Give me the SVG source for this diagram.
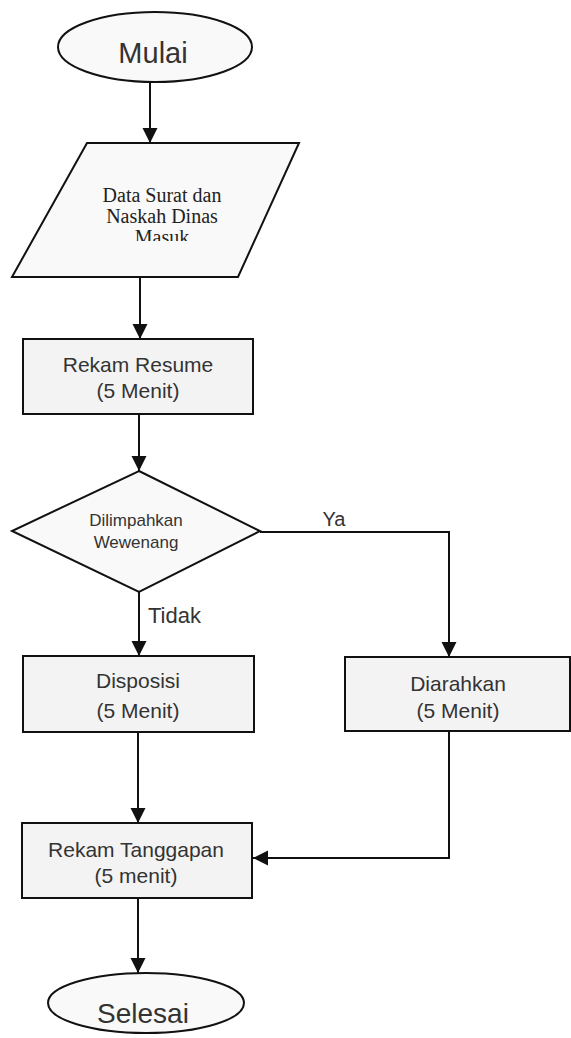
<svg xmlns="http://www.w3.org/2000/svg" width="571" height="1038" viewBox="0 0 571 1038">
  <style>
    .shape { stroke: #111; stroke-width: 2; }
    .box { fill: #f3f3f3; }
    .light { fill: #f9f9f9; }
    .lbl { font-family: "Liberation Sans", Arial, sans-serif; text-anchor: middle; fill: #333; }
    .serif { font-family: "Liberation Serif", "Times New Roman", serif; text-anchor: middle; fill: #222; font-size: 20px; }
    .conn { fill: none; stroke: #111; stroke-width: 2; }
  </style>
  <defs>
    <marker id="arr" markerUnits="userSpaceOnUse" markerWidth="16" markerHeight="16" refX="15" refY="7.5" orient="auto">
      <path d="M0,0 L15,7.5 L0,15 z" fill="#111"/>
    </marker>
    <clipPath id="clipData">
      <rect x="0" y="150" width="320" height="91"/>
    </clipPath>
  </defs>
  <rect x="0" y="0" width="571" height="1038" fill="#ffffff"/>

  <g id="connectors">
    <path class="conn" d="M150,82 V143" marker-end="url(#arr)"/>
    <path class="conn" d="M140,277 V339" marker-end="url(#arr)"/>
    <path class="conn" d="M139,414 V471" marker-end="url(#arr)"/>
    <path class="conn" d="M139,592 V656" marker-end="url(#arr)"/>
    <path class="conn" d="M260,532 H449 V657" marker-end="url(#arr)"/>
    <path class="conn" d="M449,731 V858 H253" marker-end="url(#arr)"/>
    <path class="conn" d="M138,732 V823" marker-end="url(#arr)"/>
    <path class="conn" d="M138,898 V973" marker-end="url(#arr)"/>
    <text class="lbl" x="334" y="526" font-size="20" fill="#111">Ya</text>
    <text class="lbl" x="148" y="623" font-size="22" style="text-anchor:start" fill="#111">Tidak</text>
  </g>

  <g id="mulai">
    <ellipse class="shape light" cx="155" cy="47" rx="97" ry="35"/>
    <text class="lbl" x="153" y="63" font-size="29" fill="#111">Mulai</text>
  </g>

  <g id="data-masuk">
    <polygon class="shape light" points="87,143 299,143 238,277 12,277"/>
    <g clip-path="url(#clipData)">
      <text class="serif" x="162" y="202">Data Surat dan</text>
      <text class="serif" x="162" y="223">Naskah Dinas</text>
      <text class="serif" x="162" y="244">Masuk</text>
    </g>
  </g>

  <g id="rekam-resume">
    <rect class="shape box" x="23" y="339" width="230" height="75"/>
    <text class="lbl" x="138" y="372" font-size="21">Rekam Resume</text>
    <text class="lbl" x="138" y="398" font-size="21">(5 Menit)</text>
  </g>

  <g id="dilimpahkan">
    <polygon class="shape light" points="139,471 260,531 139,592 12,531"/>
    <text class="lbl" x="136" y="526" font-size="17" fill="#444">Dilimpahkan</text>
    <text class="lbl" x="136" y="548" font-size="17" fill="#444">Wewenang</text>
  </g>

  <g id="disposisi">
    <rect class="shape box" x="23" y="656" width="231" height="76"/>
    <text class="lbl" x="138" y="688" font-size="21" fill="#444">Disposisi</text>
    <text class="lbl" x="138" y="718" font-size="21" fill="#444">(5 Menit)</text>
  </g>

  <g id="diarahkan">
    <rect class="shape box" x="345" y="657" width="225" height="74"/>
    <text class="lbl" x="458" y="691" font-size="21" fill="#111">Diarahkan</text>
    <text class="lbl" x="458" y="718" font-size="21" fill="#111">(5 Menit)</text>
  </g>

  <g id="rekam-tanggapan">
    <rect class="shape box" x="22" y="823" width="230" height="75"/>
    <text class="lbl" x="136" y="857" font-size="21">Rekam Tanggapan</text>
    <text class="lbl" x="136" y="883" font-size="21">(5 menit)</text>
  </g>

  <g id="selesai">
    <ellipse class="shape light" cx="146" cy="1003" rx="98" ry="30"/>
    <text class="lbl" x="143" y="1023" font-size="28">Selesai</text>
  </g>
</svg>
